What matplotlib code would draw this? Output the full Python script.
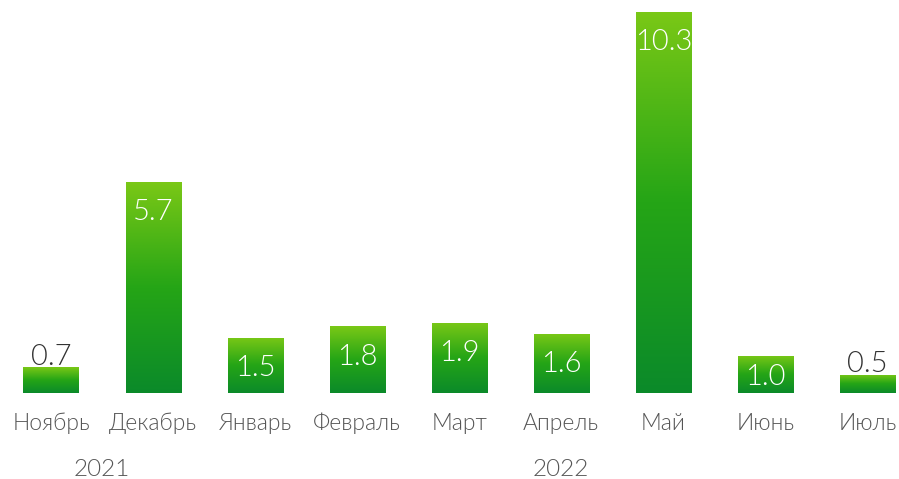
import numpy as np
from matplotlib import pyplot as plt
from matplotlib.colors import LinearSegmentedColormap

months = ["Ноябрь", "Декабрь", "Январь", "Февраль", "Март",
          "Апрель", "Май", "Июнь", "Июль"]
values = [0.7, 5.7, 1.5, 1.8, 1.9, 1.6, 10.3, 1.0, 0.5]
years = ["2021", "2022"]
year_pos = [0.5, 5]

plt.rcParams['font.family'] = ['Lato', 'DejaVu Sans']

green = LinearSegmentedColormap.from_list("green", ["#0b8a2a", "#25a516", "#7ac816"])

PX = 37.0  # pixels per unit on y


def main():
    fig = plt.figure(figsize=(8.99, 4.79), dpi=100)
    ax = fig.add_axes([0, 0, 1, 1])
    ax.axis("off")

    x = np.arange(len(values))
    bars = ax.bar(x, values, width=0.54, color="none")
    grad = np.linspace(0, 1, 256).reshape(-1, 1)
    for bar, v in zip(bars, values):
        x0 = bar.get_x()
        cx = x0 + bar.get_width() / 2
        im = ax.imshow(grad, cmap=green, origin="lower", aspect="auto",
                       extent=[x0, x0 + bar.get_width(), 0, v], zorder=2)
        im.set_clip_path(bar)

        if v < 1:
            ax.text(cx, v + 0.07, f"{v:.1f}", ha="center", va="baseline",
                    fontsize=21, color="#333333", fontweight=300, zorder=3)
        else:
            # digits ~21px tall, placed 17px under the top or centred if short
            off = min(17, (v * PX - 21) / 2) / PX
            ax.text(cx, v - off - 21 / PX, f"{v:.1f}", ha="center",
                    va="baseline", fontsize=21, color="white",
                    fontweight=300, zorder=3)

    for i, m in enumerate(months):
        ax.text(i, -1.0, m, ha="center", va="baseline", fontsize=16.5,
                color="#555555", fontweight=300)
    for p, y in zip(year_pos, years):
        ax.text(p, -2.24, y, ha="center", va="baseline", fontsize=17.5,
                color="#555555", fontweight=300)

    ax.set_xlim(-0.5, 8.31)
    ax.set_ylim(-2.32, 10.62)
    fig.savefig("out.png", dpi=100)


if __name__ == "__main__":
    main()
